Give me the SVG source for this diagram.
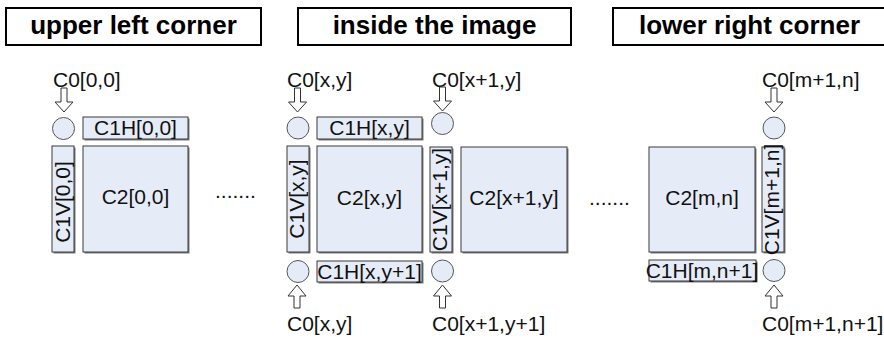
<svg xmlns="http://www.w3.org/2000/svg" width="884" height="338" viewBox="0 0 884 338">
<style>
.title{fill:#fff;stroke:#000;stroke-width:2}
.tt{font-family:"Liberation Sans",Arial,sans-serif;font-weight:bold;font-size:26px;text-anchor:middle;fill:#000}
.lbl{font-family:"Liberation Sans",Arial,sans-serif;font-size:21px;fill:#111}
.mid{text-anchor:middle}
.box{fill:#e6ecf7;stroke:#3a3a3a;stroke-width:1}
.sh{fill:#7a7a7a}
.cir{fill:#e6ecf7;stroke:#555;stroke-width:1}
.arr{fill:#fff;stroke:#333;stroke-width:1}
</style>
<defs>
<path id="dn" d="M-3,0 H3 V14 H9 L0,24 L-9,14 H-3 Z"/>
<path id="up" d="M-3,23 H3 V11 H9 L0,0 L-9,11 H-3 Z"/>
</defs>

<g id="title-upper-left"><rect class="title" x="6" y="8" width="255" height="37"/><text class="tt" x="133.5" y="34">upper left corner</text></g>
<g id="title-inside"><rect class="title" x="298" y="8" width="273" height="37"/><text class="tt" x="434.5" y="34">inside the image</text></g>
<g id="title-lower-right"><rect class="title" x="613" y="8" width="273" height="37"/><text class="tt" x="749.5" y="34">lower right corner</text></g>

<!-- upper left -->
<g id="c0-00"><text class="lbl" x="53" y="87">C0[0,0]</text><circle class="cir" cx="63.5" cy="128.5" r="11"/></g>
<g id="c1h-00"><rect class="sh" x="84.5" y="118.5" width="105" height="22"/><rect class="box" x="83" y="117" width="105" height="22"/><text class="lbl mid" x="135.5" y="135">C1H[0,0]</text></g>
<g id="c1v-00"><rect class="sh" x="53.5" y="147.5" width="22" height="106"/><rect class="box" x="52" y="146" width="22" height="106"/><text class="lbl mid" transform="translate(70,202) rotate(-90)">C1V[0,0]</text></g>
<g id="c2-00"><rect class="sh" x="84.5" y="147.5" width="105" height="106"/><rect class="box" x="83" y="146" width="105" height="106"/><text class="lbl mid" x="135.5" y="204">C2[0,0]</text></g>
<g id="dots-1"><text class="lbl" x="215" y="198">.......</text></g>

<!-- inside -->
<g id="c0-xy-top"><text class="lbl" x="287" y="87">C0[x,y]</text><circle class="cir" cx="298" cy="128" r="11"/></g>
<g id="c0-x1y-top"><text class="lbl" x="432" y="87">C0[x+1,y]</text><circle class="cir" cx="442.5" cy="123.5" r="11"/></g>
<g id="c1h-xy"><rect class="sh" x="318.5" y="118.5" width="105" height="22"/><rect class="box" x="317" y="117" width="105" height="22"/><text class="lbl mid" x="369.5" y="135">C1H[x,y]</text></g>
<g id="c1v-xy"><rect class="sh" x="288.5" y="147.5" width="22" height="106"/><rect class="box" x="287" y="146" width="22" height="106"/><text class="lbl mid" transform="translate(304,199) rotate(-90)">C1V[x,y]</text></g>
<g id="c2-xy"><rect class="sh" x="318.5" y="147.5" width="105" height="106"/><rect class="box" x="317" y="146" width="105" height="106"/><text class="lbl mid" x="369.5" y="205">C2[x,y]</text></g>
<g id="c1v-x1y"><rect class="sh" x="431.5" y="148.5" width="22" height="105"/><rect class="box" x="430" y="147" width="22" height="105"/><text class="lbl mid" transform="translate(447,199.5) rotate(-90)">C1V[x+1,y]</text></g>
<g id="c2-x1y"><rect class="sh" x="462.5" y="148.5" width="106" height="105"/><rect class="box" x="461" y="147" width="106" height="105"/><text class="lbl mid" x="514" y="205">C2[x+1,y]</text></g>
<g id="c1h-xy1"><rect class="sh" x="318.5" y="262.5" width="105" height="21"/><rect class="box" x="317" y="261" width="105" height="21"/><text class="lbl mid" x="369.5" y="279">C1H[x,y+1]</text></g>
<g id="c0-xy-bot"><circle class="cir" cx="298" cy="271.5" r="11"/><text class="lbl" x="287" y="331">C0[x,y]</text></g>
<g id="c0-x1y1"><circle class="cir" cx="442.5" cy="271" r="11"/><text class="lbl" x="432" y="331">C0[x+1,y+1]</text></g>
<g id="dots-2"><text class="lbl" x="589" y="205">.......</text></g>

<!-- lower right -->
<g id="c0-m1n"><text class="lbl" x="762" y="87">C0[m+1,n]</text><circle class="cir" cx="774" cy="128" r="11"/></g>
<g id="c2-mn"><rect class="sh" x="650.5" y="148.5" width="106" height="105"/><rect class="box" x="649" y="147" width="106" height="105"/><text class="lbl mid" x="702" y="205">C2[m,n]</text></g>
<g id="c1v-m1n"><rect class="sh" x="763.5" y="148.5" width="22" height="105"/><rect class="box" x="762" y="147" width="22" height="105"/><text class="lbl mid" transform="translate(779,199.5) rotate(-90)">C1V[m+1,n]</text></g>
<g id="c1h-mn1"><rect class="sh" x="650.5" y="261.5" width="107" height="21"/><rect class="box" x="649" y="260" width="107" height="21"/><text class="lbl mid" x="702" y="278">C1H[m,n+1]</text></g>
<g id="c0-m1n1"><circle class="cir" cx="774" cy="270.5" r="11"/><text class="lbl" x="762" y="331">C0[m+1,n+1]</text></g>

<g id="connectors">
<use href="#dn" class="arr" x="64" y="88"/>
<use href="#dn" class="arr" x="297.5" y="88"/>
<use href="#dn" class="arr" x="442.5" y="87"/>
<use href="#dn" class="arr" x="774" y="88"/>
<use href="#up" class="arr" x="297" y="285"/>
<use href="#up" class="arr" x="442.5" y="285"/>
<use href="#up" class="arr" x="774" y="285"/>
</g>
</svg>
